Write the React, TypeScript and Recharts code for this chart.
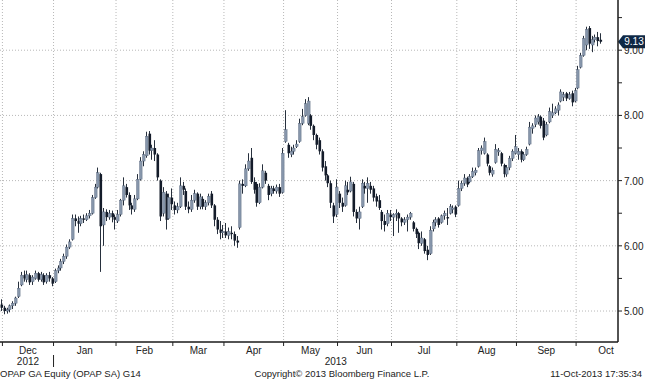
import { ComposedChart, Bar, XAxis, YAxis, CartesianGrid, ReferenceLine } from "recharts";

type Ohlc = [number, number, number, number]; // open, high, low, close

const MONTHS = ["Dec", "Jan", "Feb", "Mar", "Apr", "May", "Jun", "Jul", "Aug", "Sep", "Oct"];
const YEARS = ["2012", "2013"];
const PRICE_TICKS = [5, 5.5, 6, 6.5, 7, 7.5, 8, 8.5, 9, 9.5];
const PRICE_GRID = [5, 6, 7, 8, 9];
const LAST_PRICE = 9.13;

const nov: Ohlc[] = [[5.1, 5.18, 5.0, 5.05]];
const dec: Ohlc[] = [
  [5.05, 5.08, 4.95, 5.0], [5.0, 5.05, 4.96, 5.02], [5.02, 5.1, 4.98, 5.08], [5.08, 5.15, 5.03, 5.12],
  [5.12, 5.22, 5.08, 5.2], [5.22, 5.45, 5.2, 5.35], [5.4, 5.6, 5.38, 5.55], [5.55, 5.62, 5.45, 5.5],
  [5.48, 5.62, 5.44, 5.56], [5.55, 5.58, 5.4, 5.44], [5.45, 5.55, 5.4, 5.52], [5.5, 5.62, 5.48, 5.58],
  [5.58, 5.6, 5.45, 5.48], [5.48, 5.6, 5.45, 5.56], [5.55, 5.58, 5.4, 5.44], [5.45, 5.58, 5.42, 5.55],
  [5.55, 5.6, 5.45, 5.5], [5.5, 5.52, 5.38, 5.42],
];
const jan: Ohlc[] = [
  [5.45, 5.65, 5.43, 5.62], [5.62, 5.7, 5.58, 5.66], [5.66, 5.8, 5.62, 5.76], [5.76, 5.88, 5.72, 5.84],
  [5.84, 6.02, 5.8, 5.98], [5.98, 6.1, 5.95, 6.06], [6.1, 6.48, 6.08, 6.42], [6.42, 6.48, 6.3, 6.38],
  [6.38, 6.45, 6.2, 6.34], [6.34, 6.46, 6.3, 6.42], [6.42, 6.48, 6.35, 6.4], [6.4, 6.5, 6.38, 6.46],
  [6.46, 6.55, 6.42, 6.5], [6.5, 6.78, 6.48, 6.74], [6.74, 6.95, 6.72, 6.9], [6.9, 7.2, 6.88, 7.12],
  [7.1, 7.12, 5.6, 6.3], [6.32, 6.58, 6.0, 6.52], [6.52, 6.56, 6.38, 6.44], [6.44, 6.55, 6.4, 6.5],
  [6.5, 6.54, 6.36, 6.44], [6.44, 6.48, 6.25, 6.4],
];
const feb: Ohlc[] = [
  [6.38, 6.55, 6.35, 6.48], [6.48, 6.72, 6.45, 6.7], [6.7, 7.05, 6.62, 6.92], [6.9, 6.95, 6.74, 6.78],
  [6.78, 6.82, 6.55, 6.62], [6.62, 6.66, 6.48, 6.56], [6.56, 6.78, 6.52, 6.72], [6.72, 7.1, 6.7, 7.02],
  [7.02, 7.36, 7.0, 7.3], [7.3, 7.45, 7.22, 7.4], [7.38, 7.75, 7.35, 7.68], [7.72, 7.76, 7.4, 7.46],
  [7.46, 7.55, 7.32, 7.5], [7.5, 7.62, 7.3, 7.4], [7.4, 7.42, 7.0, 7.05], [7.0, 7.02, 6.38, 6.45],
  [6.5, 6.9, 6.45, 6.82], [6.8, 6.84, 6.25, 6.4], [6.42, 6.8, 6.4, 6.74], [6.74, 6.88, 6.55, 6.64],
];
const mar: Ohlc[] = [
  [6.62, 6.68, 6.48, 6.55], [6.55, 6.66, 6.5, 6.6], [6.6, 7.05, 6.58, 6.92], [6.92, 6.98, 6.78, 6.86],
  [6.84, 6.88, 6.55, 6.6], [6.6, 6.68, 6.5, 6.56], [6.56, 6.78, 6.52, 6.7], [6.7, 6.86, 6.66, 6.8],
  [6.8, 6.82, 6.55, 6.6], [6.6, 6.8, 6.56, 6.75], [6.72, 6.76, 6.56, 6.6], [6.6, 6.7, 6.55, 6.66],
  [6.66, 6.8, 6.62, 6.76], [6.8, 6.84, 6.58, 6.62], [6.62, 6.64, 6.3, 6.4], [6.4, 6.44, 6.18, 6.25],
  [6.25, 6.38, 6.1, 6.2], [6.2, 6.32, 6.12, 6.22],
];
const apr: Ohlc[] = [
  [6.22, 6.35, 6.12, 6.16], [6.16, 6.28, 6.1, 6.22], [6.2, 6.3, 6.1, 6.18], [6.18, 6.22, 6.0, 6.08],
  [6.08, 6.15, 5.97, 6.05], [6.28, 7.0, 6.25, 6.95], [6.95, 7.02, 6.8, 6.92], [6.92, 7.25, 6.9, 7.18],
  [7.18, 7.42, 7.15, 7.3], [7.35, 7.5, 6.95, 6.98], [6.98, 7.05, 6.8, 6.86], [6.95, 6.98, 6.6, 6.66],
  [6.66, 6.96, 6.64, 6.9], [6.9, 7.25, 6.88, 7.15], [7.12, 7.15, 6.95, 7.0], [6.92, 6.95, 6.7, 6.78],
  [6.8, 6.92, 6.76, 6.88], [6.88, 6.92, 6.8, 6.84], [6.84, 6.94, 6.8, 6.9], [6.9, 6.95, 6.75, 6.8],
  [6.82, 7.5, 6.8, 7.42],
];
const may: Ohlc[] = [
  [7.6, 8.08, 7.58, 7.78], [7.55, 7.58, 7.35, 7.42], [7.4, 7.52, 7.36, 7.45], [7.45, 7.55, 7.4, 7.5],
  [7.52, 7.62, 7.5, 7.56], [7.6, 7.95, 7.58, 7.88], [7.88, 8.1, 7.85, 7.98], [8.0, 8.25, 7.98, 8.18],
  [7.88, 8.28, 7.85, 8.22], [8.0, 8.02, 7.78, 7.84], [7.84, 7.86, 7.62, 7.7], [7.7, 7.72, 7.48, 7.55],
  [7.62, 7.66, 7.4, 7.45], [7.45, 7.48, 7.14, 7.2], [7.22, 7.3, 7.0, 7.08], [7.08, 7.1, 6.9, 6.96],
  [6.96, 7.0, 6.58, 6.66], [6.62, 6.66, 6.35, 6.45], [6.48, 7.02, 6.44, 6.9],
];
const jun: Ohlc[] = [
  [6.8, 6.84, 6.58, 6.66], [6.66, 6.74, 6.52, 6.6], [6.62, 7.0, 6.6, 6.92], [6.86, 6.98, 6.78, 6.82],
  [6.84, 7.06, 6.82, 6.98], [6.95, 6.98, 6.45, 6.52], [6.52, 6.56, 6.35, 6.42], [6.42, 6.6, 6.25, 6.52],
  [6.6, 7.02, 6.58, 6.96], [6.92, 6.98, 6.8, 6.88], [6.88, 7.05, 6.66, 6.96], [6.92, 6.98, 6.8, 6.86],
  [6.88, 6.92, 6.68, 6.74], [6.76, 6.8, 6.6, 6.68], [6.7, 6.78, 6.55, 6.58], [6.52, 6.55, 6.25, 6.38],
  [6.38, 6.48, 6.22, 6.32], [6.34, 6.55, 6.3, 6.5], [6.48, 6.55, 6.38, 6.44],
];
const jul: Ohlc[] = [
  [6.44, 6.5, 6.15, 6.48], [6.48, 6.56, 6.38, 6.5], [6.5, 6.52, 6.2, 6.42], [6.42, 6.44, 6.3, 6.36],
  [6.36, 6.44, 6.32, 6.4], [6.4, 6.48, 6.22, 6.44], [6.44, 6.52, 6.4, 6.5], [6.36, 6.38, 6.22, 6.26],
  [6.26, 6.28, 6.12, 6.18], [6.2, 6.22, 5.95, 6.04], [6.04, 6.22, 6.0, 6.12], [6.1, 6.12, 5.88, 5.92],
  [5.94, 6.0, 5.78, 5.86], [5.88, 6.3, 5.86, 6.24], [6.26, 6.4, 6.22, 6.36], [6.36, 6.44, 6.3, 6.4],
  [6.42, 6.44, 6.28, 6.32], [6.36, 6.48, 6.34, 6.46], [6.46, 6.54, 6.4, 6.5], [6.44, 6.58, 6.32, 6.42],
  [6.5, 6.64, 6.48, 6.6], [6.56, 6.62, 6.5, 6.58], [6.6, 6.62, 6.44, 6.48],
];
const aug: Ohlc[] = [
  [6.62, 7.0, 6.6, 6.88], [6.88, 7.0, 6.84, 6.96], [6.96, 7.1, 6.92, 7.04], [7.04, 7.06, 6.9, 6.94],
  [6.98, 7.1, 6.96, 7.06], [7.06, 7.2, 7.04, 7.14], [7.12, 7.2, 7.08, 7.16], [7.22, 7.5, 7.2, 7.46],
  [7.46, 7.54, 7.4, 7.5], [7.42, 7.66, 7.4, 7.6], [7.4, 7.42, 7.22, 7.26], [7.22, 7.24, 7.08, 7.12],
  [7.1, 7.2, 7.06, 7.16], [7.28, 7.56, 7.26, 7.48], [7.44, 7.5, 7.38, 7.46], [7.42, 7.44, 7.22, 7.26],
  [7.24, 7.26, 7.05, 7.1], [7.1, 7.24, 7.06, 7.2], [7.2, 7.38, 7.16, 7.34], [7.34, 7.48, 7.3, 7.45],
  [7.42, 7.7, 7.4, 7.52],
];
const sep: Ohlc[] = [
  [7.4, 7.5, 7.32, 7.45], [7.45, 7.48, 7.28, 7.32], [7.32, 7.44, 7.3, 7.4], [7.4, 7.52, 7.38, 7.48],
  [7.56, 7.9, 7.54, 7.82], [7.8, 7.88, 7.72, 7.84], [7.86, 8.0, 7.82, 7.96], [7.9, 8.02, 7.86, 7.98],
  [7.98, 8.0, 7.8, 7.84], [7.92, 7.96, 7.62, 7.66], [7.7, 7.9, 7.68, 7.86], [7.9, 8.12, 7.88, 8.06],
  [8.0, 8.18, 7.96, 8.04], [8.04, 8.14, 8.02, 8.1], [8.08, 8.2, 8.0, 8.16], [8.22, 8.4, 8.2, 8.36],
  [8.28, 8.36, 8.22, 8.32], [8.34, 8.36, 8.22, 8.26], [8.26, 8.36, 8.24, 8.32], [8.34, 8.38, 8.14, 8.2],
  [8.22, 8.42, 8.2, 8.38],
];
const oct: Ohlc[] = [
  [8.42, 8.76, 8.4, 8.7], [8.74, 8.96, 8.72, 8.92], [8.92, 9.22, 8.9, 9.18], [9.08, 9.36, 9.0, 9.32],
  [9.34, 9.37, 9.02, 9.1], [9.08, 9.22, 8.97, 9.16], [9.16, 9.24, 9.12, 9.2], [9.2, 9.28, 9.06, 9.14],
  [9.16, 9.26, 9.1, 9.13],
];

const byMonth = [nov, dec, jan, feb, mar, apr, may, jun, jul, aug, sep, oct];

const candles = byMonth.flat().map(([open, high, low, close], i) => ({ i, open, high, low, close }));

// month boundaries (between trading days), derived from the number of sessions per month
const boundaries: number[] = [];
{
  let n = nov.length;
  for (const m of byMonth.slice(1)) {
    boundaries.push(n - 0.5);
    n += m.length;
  }
}

const X_MIN = -0.35;
const X_MAX = 217.25;
const Y_MIN = 4.525;
const Y_MAX = 9.77;

type TickInfo = { line?: boolean; sep?: boolean; month?: string; year?: string };
const tickInfo = new Map<number, TickInfo>();
boundaries.forEach((b, k) => tickInfo.set(b, { line: true, sep: k === 1 }));
boundaries.forEach((b, k) => {
  const next = k < boundaries.length - 1 ? boundaries[k + 1] : b + 10.5 * 2;
  const mid = (b + next) / 2;
  tickInfo.set(mid, { month: MONTHS[k], year: k === 0 ? YEARS[0] : undefined });
});
const year2 = (boundaries[1] + X_MAX) / 2;
tickInfo.set(year2, { year: YEARS[1] });
const X_TICKS = [...tickInfo.keys()].sort((a, b) => a - b);

const FONT = "'Liberation Sans', Arial, sans-serif";
const TXT = "#222";

function MonthTick(props: any) {
  const { x, y, payload } = props;
  const info = tickInfo.get(payload.value);
  if (!info) return null;
  return (
    <g>
      {info.line && <line x1={x} x2={x} y1={y} y2={y + 4} stroke="#222" strokeWidth={1} />}
      {info.sep && <line x1={x} x2={x} y1={y + 13} y2={y + 25} stroke="#222" strokeWidth={1} />}
      {info.month && (
        <text x={x} y={y + 12} textAnchor="middle" fontSize={10} fontFamily={FONT} fill={TXT}>
          {info.month}
        </text>
      )}
      {info.year && (
        <text x={x} y={y + 23} textAnchor="middle" fontSize={10} fontFamily={FONT} fill={TXT}>
          {info.year}
        </text>
      )}
    </g>
  );
}

function PriceTick(props: any) {
  const { x, y, payload } = props;
  const major = Number.isInteger(payload.value);
  return (
    <g>
      <line x1={x} x2={x + 4} y1={y} y2={y} stroke="#222" strokeWidth={1} />
      {major && (
        <text x={x + 6} y={y + 4} fontSize={10} fontFamily={FONT} fill={TXT}>
          {payload.value.toFixed(2)}
        </text>
      )}
    </g>
  );
}

function Candle(props: any) {
  const { x, y, width, height, payload } = props;
  if (!payload) return null;
  const { open, high, low, close } = payload;
  const top = Math.min(y, y + height);
  const h = Math.abs(height);
  const k = h / (high - low);
  const cx = Math.round(x + width / 2);
  const yo = top + (high - open) * k;
  const yc = top + (high - close) * k;
  const up = close >= open;
  const bt = Math.min(yo, yc);
  const bh = Math.max(1, Math.abs(yc - yo));
  return (
    <g>
      <line x1={cx + 0.5} x2={cx + 0.5} y1={top} y2={top + h} stroke="#27303d" strokeWidth={1} />
      <rect
        x={cx - 0.5}
        y={bt}
        width={2.6}
        height={bh}
        fill={up ? "#8796ab" : "#141c2a"}
        stroke={up ? "#56647a" : "none"}
        strokeWidth={0.4}
      />
    </g>
  );
}

function PriceTag(props: any) {
  const vb = props.viewBox;
  if (!vb) return null;
  const x = vb.x + vb.width;
  const y = vb.y;
  return (
    <g>
      <path
        d={`M${x},${y} L${x + 5},${y - 6.5} L${x + 27},${y - 6.5} L${x + 27},${y + 6.5} L${x + 5},${y + 6.5} Z`}
        fill="#0e2846"
      />
      <text x={x + 16} y={y + 3.5} textAnchor="middle" fontSize={10} fontFamily={FONT} fill="#fff">
        {LAST_PRICE.toFixed(2)}
      </text>
    </g>
  );
}

export default function App() {
  return (
    <div style={{ position: "absolute", left: 0, top: 0, width: 645, height: 380, background: "#fff" }}>
      <ComposedChart
        width={645}
        height={380}
        data={candles}
        margin={{ top: 0, right: 0, bottom: 0, left: 0 }}
      >
        <CartesianGrid
          stroke="#b8b8b8"
          strokeDasharray="1 2"
          horizontalValues={PRICE_GRID}
          verticalValues={boundaries}
        />
        <XAxis
          type="number"
          dataKey="i"
          domain={[X_MIN, X_MAX]}
          allowDataOverflow
          ticks={X_TICKS}
          interval={0}
          height={38}
          tickSize={0}
          tickMargin={0}
          tickLine={false}
          axisLine={{ stroke: "#1a1a1a", strokeWidth: 1.5 }}
          tick={<MonthTick />}
        />
        <YAxis
          orientation="right"
          type="number"
          domain={[Y_MIN, Y_MAX]}
          allowDataOverflow
          ticks={PRICE_TICKS}
          interval={0}
          width={27}
          tickSize={0}
          tickMargin={0}
          tickLine={false}
          axisLine={{ stroke: "#1a1a1a", strokeWidth: 1.5 }}
          tick={<PriceTick />}
        />
        <Bar
          dataKey={(d: any) => [d.low, d.high]}
          barSize={3}
          shape={(p: any) => <Candle {...p} />}
          isAnimationActive={false}
        />
        <ReferenceLine y={LAST_PRICE} stroke="none" label={<PriceTag />} />
      </ComposedChart>
      <svg
        width={645}
        height={380}
        style={{ position: "absolute", left: 0, top: 0, pointerEvents: "none" }}
      >
        <text x={0} y={377} fontSize={9.5} fontFamily={FONT} fill={TXT}>
          OPAP GA Equity (OPAP SA) G14
        </text>
        <text x={342} y={377} textAnchor="middle" fontSize={9.5} fontFamily={FONT} fill={TXT}>
          Copyright© 2013 Bloomberg Finance L.P.
        </text>
        <text x={642} y={377} textAnchor="end" fontSize={9.5} fontFamily={FONT} fill={TXT}>
          11-Oct-2013 17:35:34
        </text>
      </svg>
    </div>
  );
}
